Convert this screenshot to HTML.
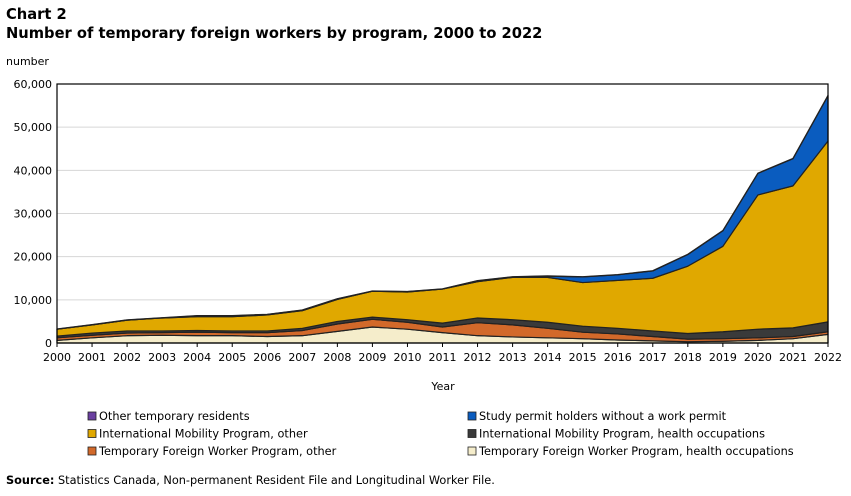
<!DOCTYPE html>
<html><head><meta charset="utf-8"><style>
body{margin:0;background:#fff;font-family:"DejaVu Sans","Liberation Sans",sans-serif;}
svg text{font-family:"DejaVu Sans","Liberation Sans",sans-serif;}
</style></head><body>
<svg width="851" height="492" xmlns="http://www.w3.org/2000/svg">
<text x="6" y="19" font-size="14.7" font-weight="bold">Chart 2</text>
<text x="6" y="38" font-size="14.7" font-weight="bold">Number of temporary foreign workers by program, 2000 to 2022</text>
<text x="6" y="65" font-size="11">number</text>
<g id="grid"></g>
<g id="areas"></g>
<rect x="57" y="84" width="771" height="259" fill="none" stroke="#000" stroke-width="1.2"/>
<g id="axes"></g>
<text x="443" y="390" font-size="11" text-anchor="middle">Year</text>
<g id="legend"></g>
<text x="6" y="484" font-size="11.3"><tspan font-weight="bold">Source:</tspan> Statistics Canada, Non-permanent Resident File and Longitudinal Worker File.</text>
</svg>
<script>
const years=[2000,2001,2002,2003,2004,2005,2006,2007,2008,2009,2010,2011,2012,2013,2014,2015,2016,2017,2018,2019,2020,2021,2022];
const tfwpHealth=[600,1200,1700,1800,1700,1700,1500,1700,2700,3700,3200,2400,1700,1400,1200,1000,700,500,300,400,600,1000,2000];
const tfwpOther=[600,600,600,600,800,700,900,1200,1700,1800,1600,1300,3000,2800,2200,1500,1400,1000,600,600,600,500,600];
const impHealth=[400,500,500,400,400,400,400,500,600,500,600,900,1100,1200,1400,1400,1300,1300,1300,1600,2000,2000,2300];
const impOther=[1600,1900,2500,3000,3200,3300,3700,4100,5100,6000,6400,7900,8400,9800,10400,10100,11100,12200,15600,19800,31100,32900,41900];
const studyOnly=[0,0,0,0,200,200,100,100,100,0,100,0,200,100,300,1300,1300,1700,2700,3600,5000,6300,10500];
const otherRes=[50,50,50,50,50,50,50,50,50,50,50,50,50,50,50,50,50,50,50,50,50,50,50];
const yTicks=[0,10000,20000,30000,40000,50000,60000];
const series=[
 {name:'Temporary Foreign Worker Program, health occupations',v:tfwpHealth,c:'#f5edcb',k:'tfwp-health'},
 {name:'Temporary Foreign Worker Program, other',v:tfwpOther,c:'#d2692a',k:'tfwp-other'},
 {name:'International Mobility Program, health occupations',v:impHealth,c:'#3a3a3a',k:'imp-health'},
 {name:'International Mobility Program, other',v:impOther,c:'#e0a800',k:'imp-other'},
 {name:'Study permit holders without a work permit',v:studyOnly,c:'#0a5cbf',k:'study-permit'},
 {name:'Other temporary residents',v:otherRes,c:'#6a3fa0',k:'other-residents'}];
const X0=57,X1=828,Y0=343,Y1=84,MAX=60000;
const xs=i=>X0+(X1-X0)*i/(years.length-1);
const ys=v=>Y0-(Y0-Y1)*v/MAX;
const NS='http://www.w3.org/2000/svg';
function mk(t,a,p){const e=document.createElementNS(NS,t);for(const k in a)e.setAttribute(k,a[k]);p.appendChild(e);return e;}
const grid=document.getElementById('grid'),axes=document.getElementById('axes'),areas=document.getElementById('areas'),leg=document.getElementById('legend');
yTicks.forEach(t=>{
 if(t>0&&t<MAX){const l=mk('line',{x1:X0,x2:X1,y1:ys(t),y2:ys(t),stroke:'#d6d6d6'},grid);
 
 }
 const tx=mk('text',{x:X0-5,y:ys(t)+4,'font-size':11,'text-anchor':'end'},axes);tx.textContent=t.toLocaleString('en-US');
 
 
});
years.forEach((y,i)=>{
 const l=mk('line',{x1:xs(i),x2:xs(i),y1:Y0,y2:Y0+4,stroke:'#000'},axes);
 
 
 const tx=mk('text',{x:xs(i),y:Y0+18,'font-size':11,'text-anchor':'middle'},axes);tx.textContent=y;
 
 
});
let base=years.map(()=>0);
series.forEach(s=>{
 const top=base.map((b,i)=>b+s.v[i]);
 let d='M'+top.map((v,i)=>xs(i)+','+ys(v)).join('L');
 for(let i=years.length-1;i>=0;i--)d+='L'+xs(i)+','+ys(base[i]);
 const p=mk('path',{d:d+'Z',fill:s.c,stroke:'#222','stroke-width':1.2,'stroke-linejoin':'round'},areas);
 
 
 base=top;
});
const order=[5,4,3,2,1,0];
order.forEach((si,j)=>{
 const s=series[si];const col=j%2,row=Math.floor(j/2);
 const x=col?468:88,y=412+row*17.5;
 const g=mk('g',{},leg);
 
 
 mk('rect',{x:x,y:y,width:8,height:8,fill:s.c,stroke:'#222','stroke-width':0.8},g);
 const t=mk('text',{x:x+11,y:y+8,'font-size':11.3},g);t.textContent=s.name;
});
</script>
</body></html>
